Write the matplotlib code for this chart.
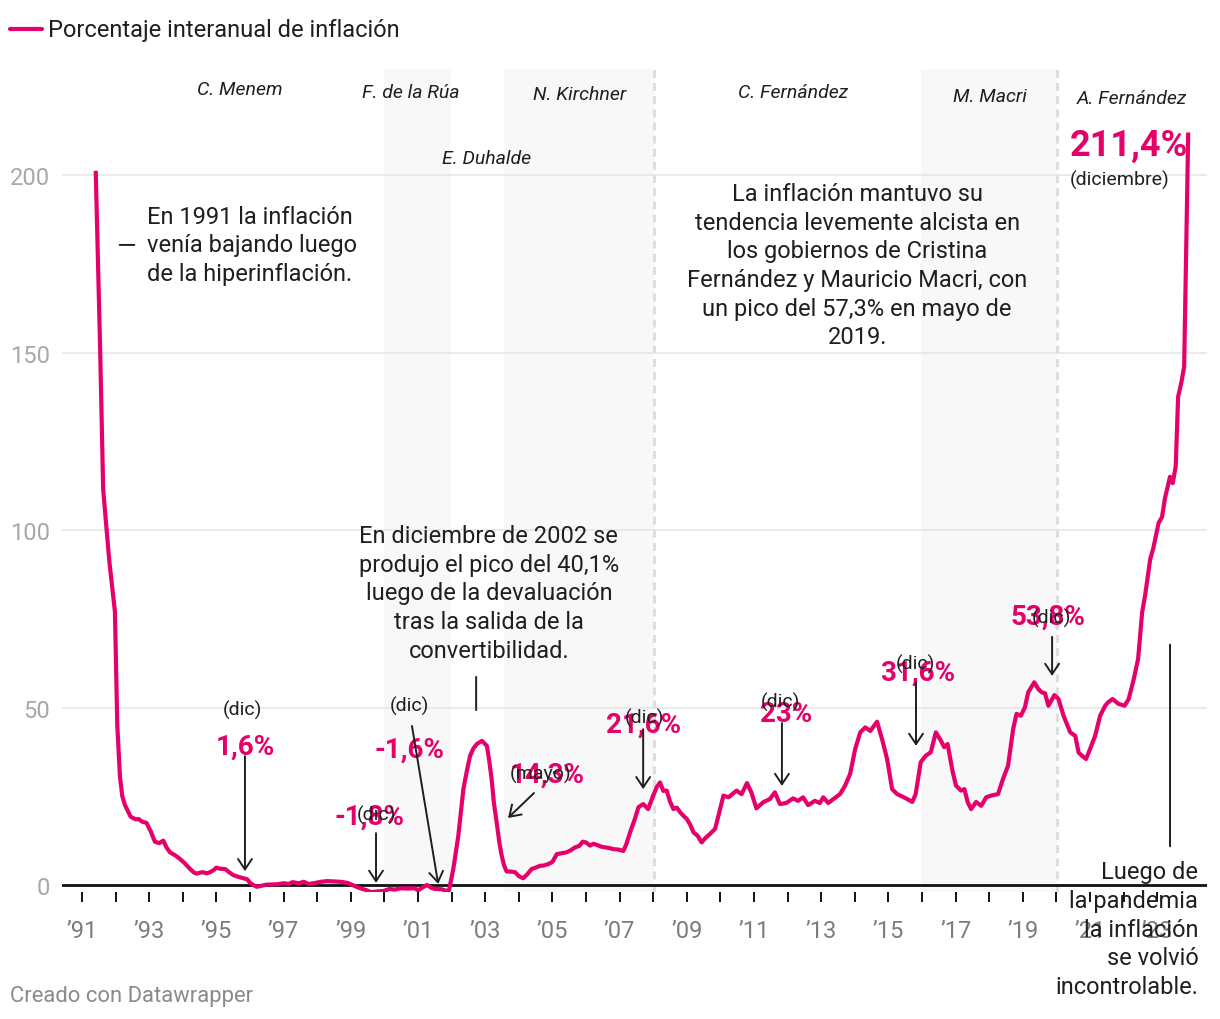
import numpy as np
import matplotlib.pyplot as plt

plt.rcParams['font.family'] = ['Roboto', 'DejaVu Sans']

ROSA = "#e5006a"
TEXTO = "#1f1f1f"

# serie (año decimal, % interanual)
fecha = [1991.41, 1991.54, 1991.63, 1991.81, 1991.98, 1992.05, 1992.13, 1992.20, 1992.28, 1992.45,
         1992.60, 1992.68, 1992.80, 1992.92, 1993.05, 1993.17, 1993.30, 1993.42, 1993.52, 1993.62,
         1993.80, 1993.92, 1994.05, 1994.21, 1994.32, 1994.41, 1994.52, 1994.61, 1994.71, 1994.81,
         1994.92, 1995.00, 1995.10, 1995.26, 1995.38, 1995.50, 1995.65, 1995.80, 1995.92, 1996.00,
         1996.10, 1996.20, 1996.35, 1996.50, 1996.80, 1997.00, 1997.15, 1997.27, 1997.45, 1997.60,
         1997.74, 1997.90, 1998.10, 1998.30, 1998.50, 1998.70, 1998.90, 1999.10, 1999.27, 1999.45,
         1999.60, 1999.80, 1999.97, 2000.15, 2000.30, 2000.50, 2000.70, 2000.90, 2001.00, 2001.15,
         2001.27, 2001.40, 2001.50, 2001.70, 2001.86, 2001.92, 2002.05, 2002.20, 2002.35, 2002.45,
         2002.55, 2002.65, 2002.75, 2002.90, 2003.05, 2003.12, 2003.19, 2003.26, 2003.34, 2003.42,
         2003.49, 2003.56, 2003.64, 2003.75, 2003.89, 2004.00, 2004.13, 2004.25, 2004.38, 2004.50,
         2004.63, 2004.75, 2004.88, 2005.00, 2005.13, 2005.30, 2005.42, 2005.55, 2005.67, 2005.80,
         2005.90, 2006.00, 2006.12, 2006.22, 2006.32, 2006.45, 2006.57, 2006.70, 2006.81, 2006.95,
         2007.11, 2007.20, 2007.31, 2007.45, 2007.56, 2007.70, 2007.85, 2008.00, 2008.10, 2008.20,
         2008.30, 2008.40, 2008.50, 2008.60, 2008.70, 2008.80, 2008.90, 2009.00, 2009.10, 2009.20,
         2009.32, 2009.44, 2009.55, 2009.69, 2009.84, 2009.94, 2010.09, 2010.24, 2010.48, 2010.63,
         2010.79, 2010.92, 2011.07, 2011.27, 2011.47, 2011.62, 2011.77, 2011.96, 2012.16, 2012.31,
         2012.46, 2012.61, 2012.81, 2012.96, 2013.06, 2013.21, 2013.36, 2013.56, 2013.71, 2013.86,
         2014.01, 2014.16, 2014.31, 2014.46, 2014.66, 2014.81, 2014.96, 2015.11, 2015.26, 2015.46,
         2015.56, 2015.71, 2015.81, 2015.96, 2016.11, 2016.26, 2016.41, 2016.56, 2016.66, 2016.76,
         2016.91, 2017.01, 2017.16, 2017.26, 2017.36, 2017.46, 2017.61, 2017.76, 2017.91, 2018.06,
         2018.26, 2018.41, 2018.56, 2018.71, 2018.81, 2018.94, 2019.06, 2019.16, 2019.34, 2019.46,
         2019.56, 2019.66, 2019.76, 2019.94, 2020.06, 2020.21, 2020.41, 2020.56, 2020.66, 2020.76,
         2020.88, 2021.00, 2021.15, 2021.30, 2021.45, 2021.53, 2021.67, 2021.85, 2022.03, 2022.15,
         2022.30, 2022.43, 2022.55, 2022.64, 2022.79, 2022.88, 2023.04, 2023.14, 2023.23, 2023.38,
         2023.46, 2023.55, 2023.62, 2023.72, 2023.80, 2023.92]
inflacion = [200.6, 151.0, 111.5, 91.5, 77.0, 45.0, 30.5, 25.0, 22.5, 19.2,
             18.5, 18.6, 17.8, 17.5, 15.0, 12.2, 11.8, 12.5, 10.5, 9.2,
             8.2, 7.3, 6.2, 4.6, 3.6, 3.2, 3.5, 3.6, 3.3, 3.6,
             4.2, 4.9, 4.6, 4.5, 3.6, 2.8, 2.3, 1.9, 1.6, 0.6,
             0.0, -0.5, -0.2, 0.1, 0.2, 0.5, 0.3, 0.8, 0.5, 0.9,
             0.3, 0.5, 0.9, 1.1, 1.0, 0.9, 0.6, -0.2, -0.9, -1.4,
             -2.0, -1.8, -1.7, -1.1, -1.3, -0.9, -1.0, -0.9, -1.5, -0.6,
             0.0, -0.8, -1.1, -1.2, -1.7, -1.6, 4.5, 13.9, 27.0, 32.0,
             36.4, 38.5, 39.7, 40.6, 39.2, 35.0, 29.9, 23.0, 17.7, 12.0,
             8.3, 5.5, 3.8, 3.8, 3.6, 2.5, 1.9, 3.0, 4.5, 4.9,
             5.4, 5.5, 5.9, 6.5, 8.7, 9.0, 9.2, 9.8, 10.6, 11.0,
             12.2, 12.0, 11.1, 11.6, 11.3, 10.8, 10.6, 10.4, 10.1, 10.0,
             9.6, 11.5, 14.8, 18.5, 21.9, 22.8, 21.4, 25.2, 27.5, 28.9,
             26.5, 26.6, 23.5, 21.4, 21.8, 20.5, 19.5, 18.6, 17.0, 14.8,
             13.9, 12.0, 13.2, 14.4, 15.8, 19.5, 25.2, 24.7, 26.6, 25.6,
             28.7, 26.1, 21.6, 23.3, 24.2, 26.1, 22.8, 23.1, 24.4, 23.7,
             24.7, 22.5, 23.7, 23.1, 24.7, 23.1, 24.2, 25.6, 28.0, 31.3,
             38.3, 43.0, 44.4, 43.4, 46.0, 41.1, 35.5, 27.0, 25.6, 24.7,
             24.2, 23.4, 25.6, 34.6, 36.4, 37.4, 43.0, 40.7, 38.8, 39.7,
             32.0, 28.0, 26.6, 27.0, 23.3, 21.4, 23.4, 22.3, 24.7, 25.2,
             25.6, 29.9, 33.6, 43.9, 48.2, 47.7, 50.0, 54.3, 57.1, 55.2,
             54.3, 54.0, 50.5, 53.5, 52.4, 47.7, 43.0, 42.0, 37.3, 36.4,
             35.5, 38.3, 42.0, 47.7, 50.5, 51.4, 52.4, 51.0, 50.5, 52.4,
             58.0, 63.7, 76.8, 81.7, 91.8, 94.8, 102.0, 103.6, 109.0, 115.0,
             113.2, 118.0, 137.5, 141.7, 146.0, 211.4]

presidentes = ["C. Menem", "F. de la Rúa", "E. Duhalde", "N. Kirchner",
               "C. Fernández", "M. Macri", "A. Fernández"]
sombra_inicio = [1999.99, 2003.55, 2015.97]
sombra_fin = [2001.98, 2008.02, 2020.02]
cortes = [2008.02, 2020.02]

valores = ["1,6%", "-1,8%", "-1,6%", "14,3%", "21,6%", "23%", "31,6%", "53,8%"]
meses = ["(dic)", "(dic)", "(dic)", "(mayo)", "(dic)", "(dic)", "(dic)", "(dic)"]

anios = np.arange(1991, 2024)
yticks = [0, 50, 100, 150, 200]

fig = plt.figure(figsize=(12.2, 10.2), dpi=100)
ax = fig.add_axes([62 / 1220, 1 - 893 / 1020, 1145 / 1220, 823 / 1020])
ax.set_xlim(1990.405, 2024.48)
ax.set_ylim(-1.97, 229.86)

for a, b in zip(sombra_inicio, sombra_fin):
    ax.axvspan(a, b, color="#f8f8f8", lw=0, zorder=0)
for c in cortes:
    ax.axvline(c, color="#dedede", lw=2.2, ls=(0, (2.6, 1.7)), zorder=1)

for v in yticks[1:]:
    ax.axhline(v, color="#e4e4e4", lw=1.1, zorder=1)
ax.axhline(0, color="#111111", lw=2.0, zorder=2)

ax.plot(fecha, inflacion, color=ROSA, lw=3.0, solid_joinstyle="round", zorder=3)

for s in ax.spines.values():
    s.set_visible(False)
ax.set_xticks(anios)
ax.set_xticklabels([f"\u2019{a % 100:02d}" if a % 2 == 1 else "" for a in anios])
ax.tick_params(axis="x", length=7.5, width=1.4, color="#111111", pad=12,
               labelsize=17, labelcolor="#7d7d7d")
ax.set_yticks(yticks)
ax.set_yticklabels([str(v) for v in yticks])
ax.tick_params(axis="y", length=0, pad=8.5, labelsize=17, labelcolor="#a8a8a8")

# nombres de presidentes
pos_pres = [(1995.70, 224.2), (2000.79, 223.4), (2003.05, 204.8), (2005.82, 222.8),
            (2012.16, 223.4), (2018.02, 222.3), (2022.25, 221.7)]
for nombre, (x, y) in zip(presidentes, pos_pres):
    ax.text(x, y, nombre, ha="center", va="center", style="italic",
            fontsize=14, color=TEXTO, zorder=5)

# textos
ax.text(1992.93, 180.3, "En 1991 la inflación\nvenía bajando luego\nde la hiperinflación.",
        ha="left", va="center", fontsize=17, color=TEXTO, linespacing=1.31, zorder=5)
ax.annotate("", xy=(1992.04, 180.3), xytext=(1992.64, 180.3),
            arrowprops=dict(arrowstyle="-", color=TEXTO, lw=1.4))
ax.text(2014.07, 174.6, "La inflación mantuvo su\ntendencia levemente alcista en\n"
        "los gobiernos de Cristina\nFernández y Mauricio Macri, con\n"
        "un pico del 57,3% en mayo de\n2019.",
        ha="center", va="center", fontsize=17, color=TEXTO, linespacing=1.31, zorder=5)
ax.text(2003.11, 82.3, "En diciembre de 2002 se\nprodujo el pico del 40,1%\n"
        "luego de la devaluación\ntras la salida de la\nconvertibilidad.",
        ha="center", va="center", fontsize=17, color=TEXTO, linespacing=1.31, zorder=5)
ax.annotate("", xy=(2002.73, 48.5), xytext=(2002.73, 59.4),
            arrowprops=dict(arrowstyle="-", color=TEXTO, lw=1.4))
ax.text(2024.22, -12.4, "Luego de\nla pandemia\nla inflación\nse volvió\nincontrolable.",
        ha="right", va="center", fontsize=17, color=TEXTO, linespacing=1.31, zorder=5)
ax.annotate("", xy=(2023.38, 10.1), xytext=(2023.38, 68.5),
            arrowprops=dict(arrowstyle="-", color=TEXTO, lw=1.4))

ax.text(2020.40, 208.5, "211,4%", ha="left", va="center", fontsize=26,
        fontweight="bold", color=ROSA, zorder=5)
ax.text(2020.40, 198.9, "(diciembre)", ha="left", va="center", fontsize=14,
        color=TEXTO, zorder=5)

# etiquetas con flecha
pos_valor = [(1995.85, 39.2), (1999.57, 19.4), (2000.76, 38.3), (2004.84, 31.3),
             (2007.70, 45.4), (2011.95, 48.2), (2015.88, 60.0), (2019.75, 75.8)]
pos_mes = [(1995.76, 49.6), (1999.75, 20.0), (2000.73, 50.7), (2004.66, 31.3),
           (2007.73, 47.3), (2011.80, 51.8), (2015.79, 62.3), (2019.84, 75.5)]
flechas = [((1995.85, 36.3), (1995.85, 3.9)), ((1999.75, 14.6), (1999.75, 0.6)),
           ((2000.82, 44.8), (2001.60, 0.3)), ((2004.45, 25.9), (2003.68, 18.9)),
           ((2007.70, 43.9), (2007.70, 27.0)), ((2011.83, 45.6), (2011.83, 27.9)),
           ((2015.82, 57.2), (2015.82, 39.2)), ((2019.87, 69.9), (2019.87, 58.9))]
for val, mes, pv, pm, (ini, fin) in zip(valores, meses, pos_valor, pos_mes, flechas):
    ax.text(pv[0], pv[1], val, ha="center", va="center", fontsize=20,
            fontweight="bold", color=ROSA, zorder=5)
    ax.text(pm[0], pm[1], mes, ha="center", va="center", fontsize=14,
            color=TEXTO, zorder=6)
    ax.annotate("", xy=fin, xytext=ini,
                arrowprops=dict(arrowstyle="->,head_length=0.75,head_width=0.5",
                                color=TEXTO, lw=1.4, mutation_scale=10,
                                shrinkA=0, shrinkB=0), zorder=6)

# leyenda y pie
fig.add_artist(plt.Line2D([10 / 1220, 42 / 1220], [1 - 30 / 1020, 1 - 30 / 1020],
                          color=ROSA, lw=3.0, solid_capstyle="round"))
fig.text(48 / 1220, 1 - 30 / 1020, "Porcentaje interanual de inflación",
         ha="left", va="center", fontsize=17, color=TEXTO)
fig.text(10 / 1220, 1 - 997 / 1020, "Creado con Datawrapper", ha="left", va="center",
         fontsize=15.8, color="#8a8a8a")

fig.savefig("out.png", dpi=100, facecolor="white")
